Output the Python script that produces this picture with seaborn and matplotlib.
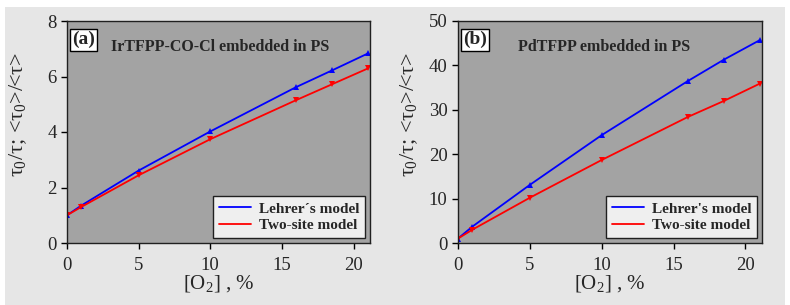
import matplotlib as mpl
import matplotlib.pyplot as plt
from matplotlib.patches import Rectangle
from matplotlib.lines import Line2D
import seaborn as sns
import pandas as pd

o2 = [0, 1, 5, 10, 16, 18.5, 21]

# panel (a) IrTFPP-CO-Cl
lehrer_a = [1.0, 1.35, 2.61, 4.02, 5.62, 6.22, 6.83]
twosite_a = [1.0, 1.30, 2.44, 3.74, 5.15, 5.72, 6.29]

# panel (b) PdTFPP
lehrer_b = [1.0, 3.7, 13.1, 24.3, 36.5, 41.3, 45.7]
twosite_b = [1.0, 3.0, 10.2, 18.7, 28.4, 32.0, 35.9]

titles = ["IrTFPP-CO-Cl embedded in PS", "PdTFPP embedded in PS"]
title_x = [0.505, 0.48]
tags = ["(a)", "(b)"]
legend_names = [["Lehrer\u00b4s model", "Two-site model"],
                ["Lehrer's model", "Two-site model"]]
ylims = [(0, 8), (0, 50)]
yticks = [[0, 2, 4, 6, 8], [0, 10, 20, 30, 40, 50]]

sns.set_style("ticks")
plt.rcParams['font.family'] = ['Liberation Serif', 'DejaVu Serif']
plt.rcParams['mathtext.fontset'] = 'custom'
plt.rcParams['mathtext.rm'] = 'Liberation Serif'
plt.rcParams['mathtext.it'] = 'Liberation Serif'

fig = plt.figure(figsize=(7.9, 3.05), dpi=100, facecolor='white')
W, H = 790, 305
bg = Rectangle((5 / W, 0), 780 / W, 1 - 7 / H, transform=fig.transFigure,
               facecolor='#e6e6e6', edgecolor='none', zorder=-10)
fig.add_artist(bg)

axes = [fig.add_axes([67 / W, 1 - 243 / H, 303 / W, 222 / H]),
        fig.add_axes([458 / W, 1 - 243 / H, 304 / W, 222 / H])]

panels = [(lehrer_a, twosite_a), (lehrer_b, twosite_b)]

for i, ax in enumerate(axes):
    le, ts = panels[i]
    df = pd.DataFrame({
        'O2': o2 * 2,
        'value': le + ts,
        'model': [legend_names[i][0]] * len(o2) + [legend_names[i][1]] * len(o2),
    })
    ax.set_facecolor('#a3a3a3')
    sns.lineplot(data=df, x='O2', y='value', hue='model', style='model',
                 palette=['#0000ff', '#ff0000'], markers=['^', 'v'], dashes=False,
                 markersize=5, markeredgewidth=0, linewidth=1.3, ax=ax, legend=False)
    ax.set_xlim(0, 21.15)
    ax.set_ylim(*ylims[i])
    ax.set_xticks([0, 5, 10, 15, 20])
    ax.set_yticks(yticks[i])
    ax.tick_params(labelsize=13.5, direction='out', length=4, width=1, color='black')
    ax.tick_params(axis='x', pad=6)
    for s in ax.spines.values():
        s.set_color('#202020')
        s.set_linewidth(1)
    ax.set_xlabel(r"[O$_2$] , %", fontsize=15, labelpad=-1)
    ax.set_ylabel(r"$\tau_0$/$\tau$; <$\tau_0$>/<$\tau$>", fontsize=16)
    ax.yaxis.set_label_coords(-0.125, 0.58)
    ax.text(0.017, 0.955, tags[i], transform=ax.transAxes, fontsize=14, fontweight='bold',
            va='top', ha='left',
            bbox=dict(boxstyle='square,pad=0.12', facecolor='white', edgecolor='black', linewidth=1))
    ax.text(title_x[i], 0.885, titles[i], transform=ax.transAxes, fontsize=11.5,
            fontweight='bold', va='center', ha='center')
    handles = [Line2D([], [], color='#0000ff', linewidth=1.3),
               Line2D([], [], color='#ff0000', linewidth=1.3)]
    leg = ax.legend(handles, legend_names[i], loc='lower right',
                    prop={'weight': 'bold', 'size': 11}, fancybox=False, framealpha=1,
                    borderaxespad=0.3, handlelength=2.1, handletextpad=0.5,
                    labelspacing=0.2, borderpad=0.4)
    leg.get_frame().set_facecolor('#efefef')
    leg.get_frame().set_edgecolor('#202020')
    leg.get_frame().set_linewidth(1)

plt.savefig('out.png', dpi=100, facecolor=fig.get_facecolor())
